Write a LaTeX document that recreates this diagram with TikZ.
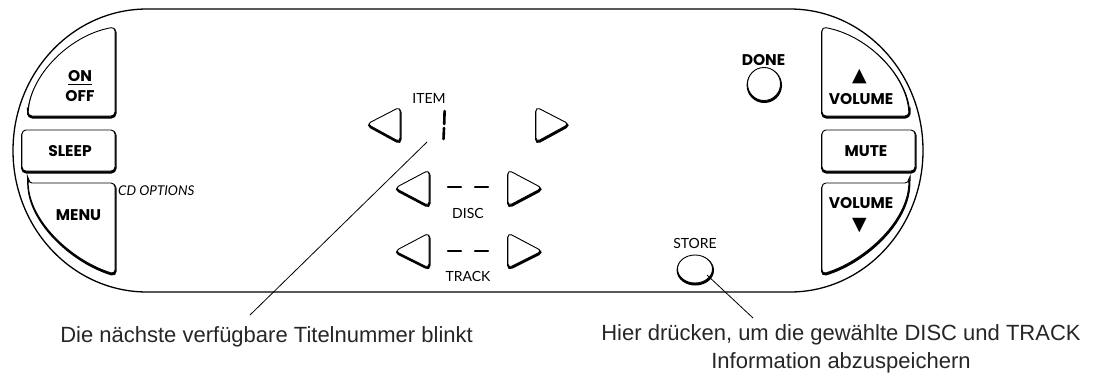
\documentclass[tikz,border=0pt]{standalone}
\usepackage{fontspec}
\newfontfamily\btnfont{Poppins}
\newfontfamily\lblfont{Lato}
\newfontfamily\capfont{Liberation Sans}
\newfontfamily\symfont{DejaVu Sans}
\newcommand\keyshape[1]{\draw[keyshadow] #1; \draw[key] #1;}
\begin{document}
\begin{tikzpicture}[x=1pt,y=-1pt,
  btn/.style={inner sep=0, font=\btnfont\bfseries\fontsize{15.5}{18}\selectfont},
  lbl/.style={inner sep=0, font=\lblfont\fontsize{14}{16}\selectfont},
  sym/.style={inner sep=0, font=\symfont\fontsize{19}{20}\selectfont},
  captext/.style={inner sep=0, anchor=base, text=black!85, font=\capfont\fontsize{22}{28}\selectfont},
  key/.style={draw, fill=white, line width=0.9, rounded corners=4},
  keyshadow/.style={draw, line width=2.4, rounded corners=4, shift={(0.3,1.3)}},
  outline/.style={line width=1.3},
  seg/.style={line width=2.6, line cap=round},
  leader/.style={line width=0.8}]
\useasboundingbox (0,0) rectangle (1102,373);

% outer housing
\draw[outline] (147,9) -- (790,9) arc[start angle=-90, end angle=90, x radius=133, y radius=141.5]
  -- (147,292) arc[start angle=90, end angle=270, x radius=134, y radius=141.5] -- cycle;

% left keys
\keyshape{(28,116) -- (115,116) -- (115,27) .. controls (70,35) and (30,75) .. (28,116) -- cycle}
\keyshape{(22,130) rectangle (115,171)}
\keyshape{(28,183) -- (115,183) -- (115,274) .. controls (75,262) and (32,225) .. (28,183) -- cycle}
% right keys
\keyshape{(909,116) -- (822,116) -- (822,27) .. controls (867,35) and (907,75) .. (909,116) -- cycle}
\keyshape{(822,130) rectangle (915,171)}
\keyshape{(909,183) -- (822,183) -- (822,274) .. controls (862,262) and (905,225) .. (909,183) -- cycle}

% arrow keys
\keyshape{(367,124) -- (400,107) -- (400,142) -- cycle}
\keyshape{(569,124) -- (536,107) -- (536,142) -- cycle}
\keyshape{(395,188) -- (429,170) -- (429,206) -- cycle}
\keyshape{(542,188) -- (508,170) -- (508,206) -- cycle}
\keyshape{(395,251) -- (429,233) -- (429,268) -- cycle}
\keyshape{(542,251) -- (508,233) -- (508,268) -- cycle}

% round keys
\keyshape{(764,84) circle[radius=16.5]}
\keyshape{(695,269) ellipse[x radius=17.5, y radius=14]}

% display segments
\draw[seg] (444.6,111) -- (444.2,124);
\draw[seg] (444,128) -- (443.5,139);
\draw[seg] (448,187) -- (461,187);
\draw[seg] (475,187) -- (488,187);
\draw[seg] (448,251) -- (461,251);
\draw[seg] (475,251) -- (488,251);

% key labels
\node[btn] (on) at (80,76) {ON};
\draw[line width=1.4] ([yshift=-2.8pt]on.base west) -- ([yshift=-2.8pt]on.base east);
\node[btn] (off) at (80,96) {OFF};
\node[btn] (sleep) at (70,151) {SLEEP};
\node[btn] (menu) at (78.5,215) {MENU};
\node[inner sep=0, anchor=west, font=\lblfont\itshape\fontsize{13.5}{15}\selectfont] (cdopt) at (118,190.5) {CD OPTIONS};
\node[sym] (volup) at (859.5,77) {▲};
\node[btn] (vol1) at (861,99) {VOLUME};
\node[btn] (mute) at (866,151) {MUTE};
\node[btn] (vol2) at (861,203) {VOLUME};
\node[sym] (voldn) at (859.5,226) {▼};
\node[btn] (done) at (763.5,60) {DONE};
\node[lbl] (store) at (695,243.5) {STORE};
\node[lbl] (item) at (429,98) {ITEM};
\node[lbl] (disc) at (468,213) {DISC};
\node[lbl] (track) at (468,276) {TRACK};

% captions
\node[captext, anchor=base east] (cap1) at (473,342) {Die nächste verfügbare Titelnummer blinkt};
\node[captext] (cap2a) at (841,340) {Hier drücken, um die gewählte DISC und TRACK};
\node[captext] (cap2b) at (841,368) {Information abzuspeichern};

% leaders
\coordinate (digit) at (427,142);
\coordinate (l1) at (250,315);
\coordinate (storept) at (707,275);
\coordinate (l2) at (753,318);
\draw[leader] (l1) -- (digit);
\draw[leader] (storept) -- (l2);
\end{tikzpicture}
\end{document}
